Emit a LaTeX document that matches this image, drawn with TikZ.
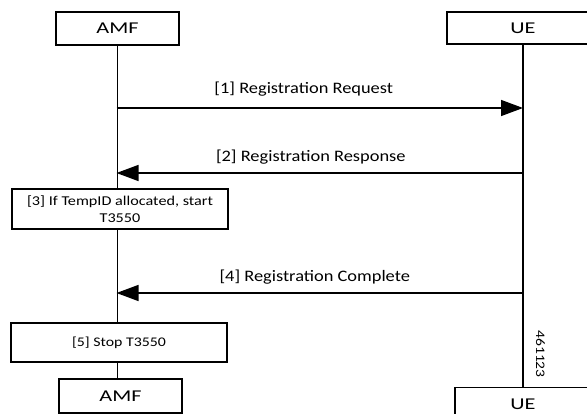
\documentclass[tikz,border=0pt]{standalone}
\usepackage{fontspec}
\setmainfont{Carlito}
\newfontfamily\entfont{Carlito}[FakeStretch=1.35]
\newfontfamily\lblfont{Carlito}[FakeStretch=1.15]
\newfontfamily\boxfont{Carlito}[FakeStretch=1.2]
\usetikzlibrary{arrows.meta}
\begin{document}
\begin{tikzpicture}[x=1pt,y=-1pt,
  entity/.style={draw,line width=1.4pt,minimum height=33pt,inner sep=0pt,font=\entfont\fontsize{16.5}{18}\selectfont},
  actbox/.style={draw,line width=1.4pt,minimum width=216pt,minimum height=40pt,inner sep=1pt,align=center,font=\boxfont\fontsize{13.5}{17}\selectfont},
  life/.style={line width=1.4pt},
  msg/.style={line width=1.4pt,-{Triangle[length=22pt,width=16pt]}},
  lbl/.style={font=\lblfont\fontsize{16}{18}\selectfont}]
\useasboundingbox (0,0) rectangle (587,414);
\clip (0,0) rectangle (587,414);
\node[entity,minimum width=123pt] (amftop) at (117.5,28.5) {AMF};
\node[entity,minimum width=152pt,minimum height=32pt] (uetop) at (523,28) {UE};
\node[actbox] (s3) at (120,209) {[3] If TempID allocated, start\\T3550};
\node[actbox,minimum height=39pt,font=\boxfont\fontsize{13.2}{17}\selectfont] (s5) at (119,342.5) {[5] Stop T3550};
\node[entity,minimum width=123pt,minimum height=34pt] (amfbot) at (120.5,396) {AMF};
\node[entity,minimum width=136pt] (uebot) at (523,404) {UE};
\coordinate (a1s) at (116.5,108);
\coordinate (u1) at (523,108);
\coordinate (u2) at (523,173);
\coordinate (a2) at (116.5,173);
\coordinate (u4) at (523,293);
\coordinate (a4) at (116.5,293);
\draw[life] (amftop.south) -- (amftop.south |- s3.north);
\draw[life] (amftop.south |- s3.south) -- (amftop.south |- s5.north);
\draw[life] (amftop.south |- s5.south) -- (amftop.south |- amfbot.north);
\draw[life] (uetop.south) -- (uebot.north);
\draw[msg] (a1s) -- node[lbl,above=8pt,xshift=-16pt]{[1] Registration Request} (u1);
\draw[msg] (u2) -- node[lbl,above=5pt,xshift=-9pt]{[2] Registration Response} (a2);
\draw[msg] (u4) -- node[lbl,above=5pt,xshift=-5pt]{[4] Registration Complete} (a4);
\node[rotate=-90,font=\boxfont\fontsize{13}{15}\selectfont] (fig) at (540.5,354) {461123};
\end{tikzpicture}
\end{document}
